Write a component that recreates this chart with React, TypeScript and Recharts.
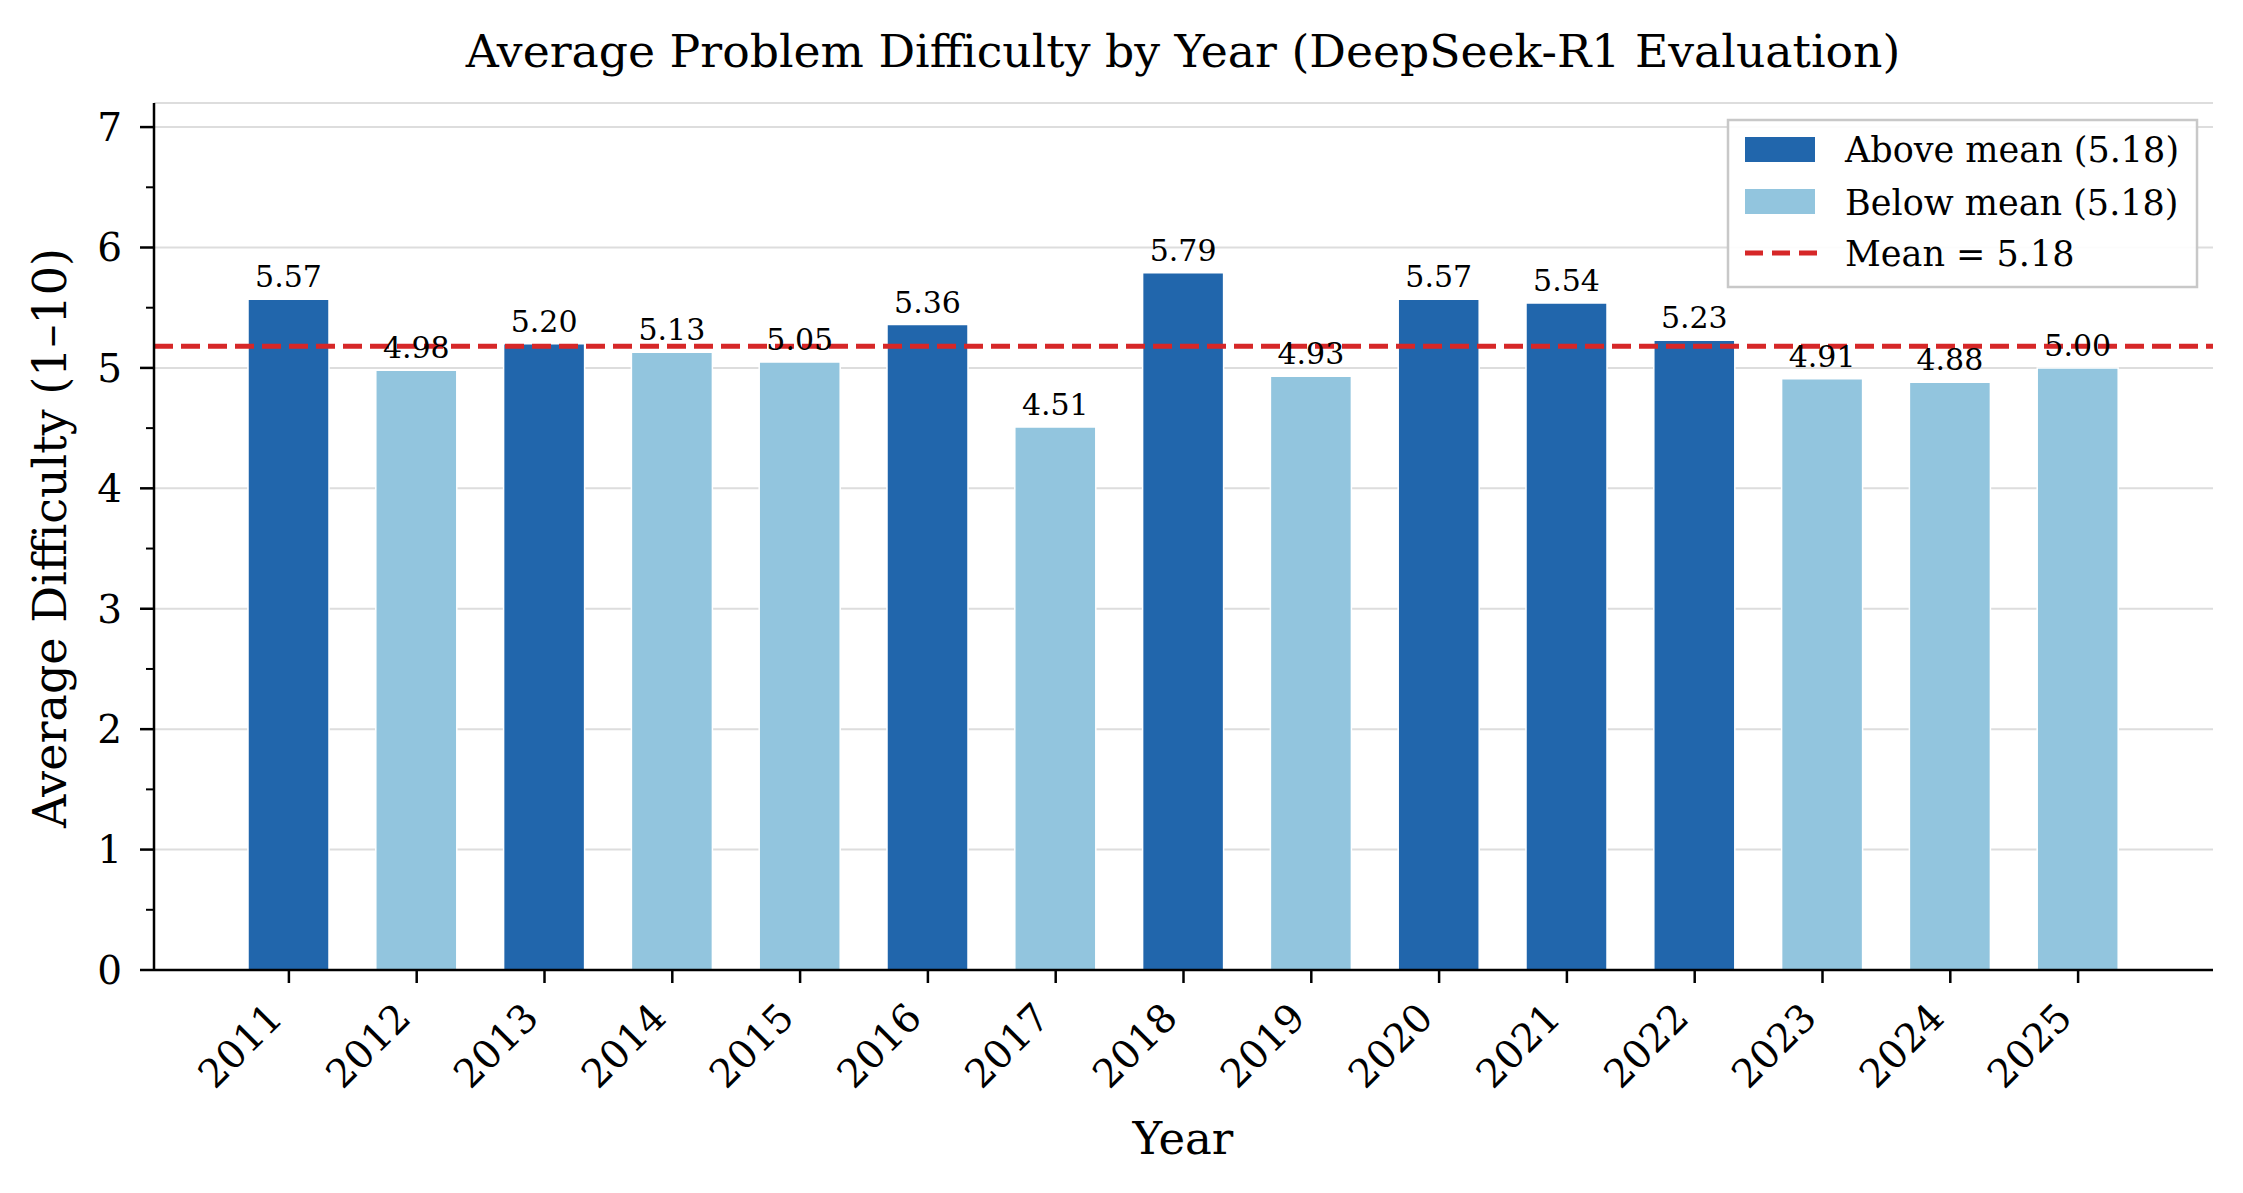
import React from 'react';
import { BarChart, Bar, XAxis, YAxis, CartesianGrid, ReferenceLine, Cell, LabelList } from 'recharts';

const years = ['2011', '2012', '2013', '2014', '2015', '2016', '2017', '2018', '2019', '2020', '2021', '2022', '2023', '2024', '2025'];
const difficulty = [5.57, 4.98, 5.2, 5.13, 5.05, 5.36, 4.51, 5.79, 4.93, 5.57, 5.54, 5.23, 4.91, 4.88, 5.0];
const meanValue = 5.18;
const yTicks = [0, 1, 2, 3, 4, 5, 6, 7];
const yMinorTicks = [0.5, 1.5, 2.5, 3.5, 4.5, 5.5, 6.5];
const legendLabels = ['Above mean (5.18)', 'Below mean (5.18)', 'Mean = 5.18'];
const titleText = 'Average Problem Difficulty by Year (DeepSeek-R1 Evaluation)';
const xLabel = 'Year';
const yLabel = 'Average Difficulty (1–10)';

const data = years.map((year, i) => ({ year, value: difficulty[i] }));

const FONT = "'DejaVu Serif', serif";
const DARK = '#2166ac';
const LIGHT = '#92c5de';
const RED = '#d62728';

const YearTick = (props: any) => {
  const { x, y, payload } = props;
  const bx = x - 4;
  const by = y + 37;
  return (
    <text
      x={bx}
      y={by}
      textAnchor="end"
      transform={`rotate(-45, ${bx}, ${by})`}
      fontSize={39}
      fontFamily={FONT}
      fill="#000"
    >
      {payload.value}
    </text>
  );
};

const ValueLabel = (p: any) => {
  const { x, y, width, value } = p;
  return (
    <text x={x + width / 2} y={y - 12} textAnchor="middle" fontSize={30} fontFamily={FONT} fill="#000">
      {Number(value).toFixed(2)}
    </text>
  );
};

const minorTickShape = (p: any) => (
  <line x1={p.x1 - 8} x2={p.x1} y1={p.y1} y2={p.y1} stroke="#000" strokeWidth={2} />
);

export default function App() {
  return (
    <div style={{ position: 'absolute', left: 0, top: 0, width: 2243, height: 1193, background: '#fff' }}>
      <BarChart
        width={2243}
        height={1193}
        data={data}
        margin={{ top: 103, right: 30, bottom: 0, left: 0 }}
        barCategoryGap={0}
      >
        <CartesianGrid vertical={false} stroke="#dddddd" strokeWidth={2} />
        <XAxis
          dataKey="year"
          type="category"
          height={223}
          padding={{ left: 71, right: 71 }}
          tickSize={13}
          tickMargin={0}
          tickLine={{ stroke: '#000', strokeWidth: 2.5 }}
          axisLine={{ stroke: '#000', strokeWidth: 2.5 }}
          tick={<YearTick />}
          interval={0}
          label={{
            content: () => (
              <text x={1183} y={1154} textAnchor="middle" fontSize={45} fontFamily={FONT} fill="#000">
                {xLabel}
              </text>
            ),
          }}
        />
        <YAxis
          type="number"
          domain={[0, 7.2]}
          ticks={yTicks}
          width={154}
          tickSize={14}
          tickMargin={18}
          tickLine={{ stroke: '#000', strokeWidth: 2.5 }}
          axisLine={{ stroke: '#000', strokeWidth: 2.5 }}
          tick={{ fontSize: 39, fontFamily: FONT, fill: '#000' }}
          allowDataOverflow
          label={{
            content: () => (
              <text
                x={66}
                y={538}
                textAnchor="middle"
                transform="rotate(-90, 66, 538)"
                fontSize={46}
                fontFamily={FONT}
                fill="#000"
              >
                {yLabel}
              </text>
            ),
          }}
        />
        {yMinorTicks.map((v) => (
          <ReferenceLine key={v} y={v} shape={minorTickShape} />
        ))}
        <Bar dataKey="value" barSize={81} stroke="#fff" strokeWidth={1.5} isAnimationActive={false}>
          {data.map((d, i) => (
            <Cell key={i} fill={d.value > meanValue ? DARK : LIGHT} />
          ))}
          <LabelList dataKey="value" content={ValueLabel} />
        </Bar>
        <ReferenceLine y={meanValue} stroke={RED} strokeWidth={5} strokeDasharray="19 8" />
      </BarChart>
      <svg
        width={2243}
        height={1193}
        style={{ position: 'absolute', left: 0, top: 0, pointerEvents: 'none' }}
      >
        <text x={1183} y={67} textAnchor="middle" fontSize={45.7} fontFamily={FONT} fill="#000">
          {titleText}
        </text>
        <rect x={1728} y={120} width={469} height={167} fill="#fff" fillOpacity={0.9} stroke="#c8c8c8" strokeWidth={2.5} />
        <rect x={1745} y={137} width={70} height={25} fill={DARK} />
        <text x={1845} y={162} fontSize={35} fontFamily={FONT} fill="#000">{legendLabels[0]}</text>
        <rect x={1745} y={189} width={70} height={25} fill={LIGHT} />
        <text x={1845} y={215} fontSize={35} fontFamily={FONT} fill="#000">{legendLabels[1]}</text>
        <line x1={1745} x2={1817} y1={253} y2={253} stroke={RED} strokeWidth={5} strokeDasharray="18 9" />
        <text x={1845} y={266} fontSize={35} fontFamily={FONT} fill="#000">{legendLabels[2]}</text>
      </svg>
    </div>
  );
}
